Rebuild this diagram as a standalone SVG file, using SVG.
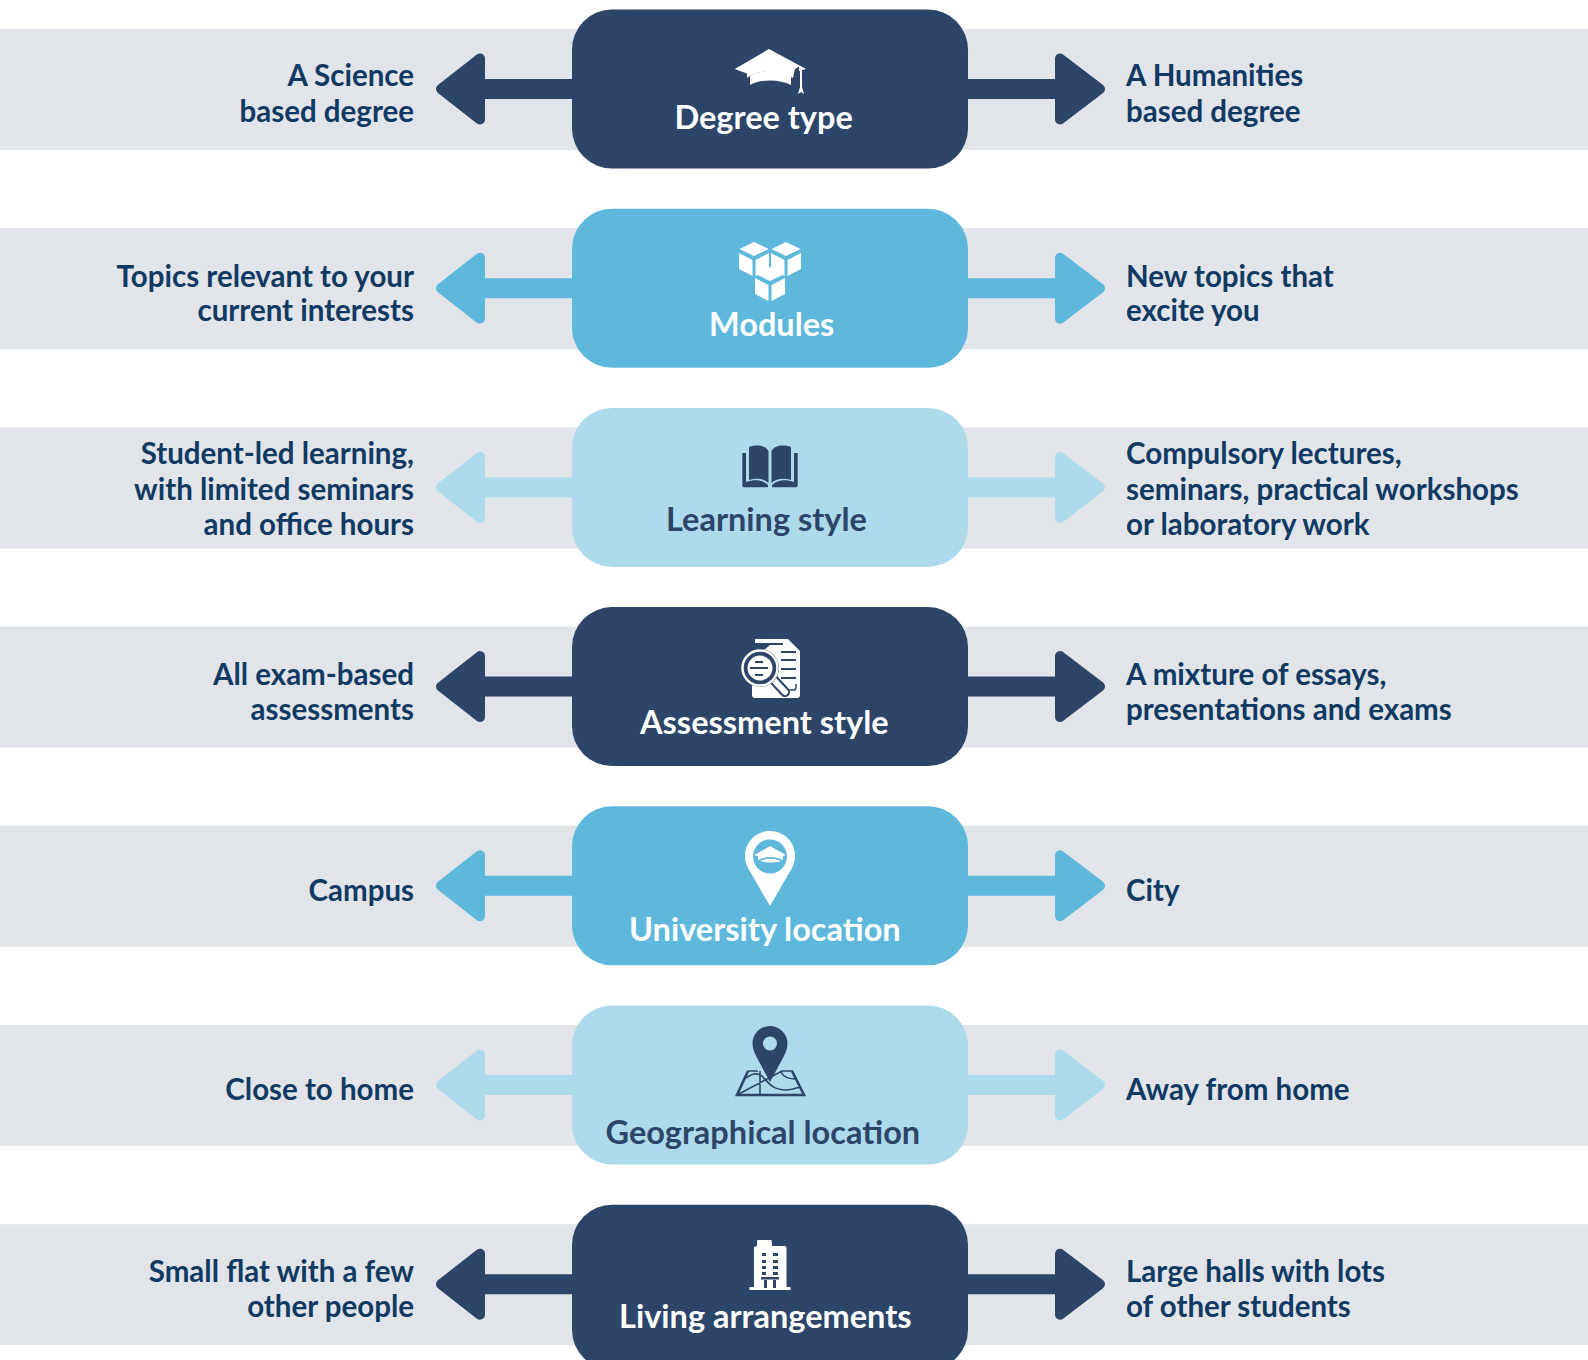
<svg xmlns="http://www.w3.org/2000/svg" xmlns:xlink="http://www.w3.org/1999/xlink" width="1588" height="1360" viewBox="0 0 1588 1360">
<style>
text{font-family:"Lato","Open Sans","Liberation Sans",sans-serif;font-weight:700}
.s{font-size:29.5px;fill:#0f3a63}
.e{text-anchor:end}
.l{font-size:32.5px}
.w{fill:#fff}
.n{fill:#2c4568}
.band{fill:#e1e4e8}
.dark{fill:#2c4568;stroke:#2c4568}
.mid{fill:#5eb8dc;stroke:#5eb8dc}
.light{fill:#aedbec;stroke:#aedbec}
.ln{fill:none;stroke-linecap:round}
</style>
<defs>
<g id="arrows">
<path d="M480 58.5V84H575V94H480V119.500L441 89Z" stroke-width="10" stroke-linejoin="round"/>
<path d="M1060 58.5V84H965V94H1060V119.500L1100 89Z" stroke-width="10" stroke-linejoin="round"/>
</g>
<g id="cube"><path d="M0-12 14.500-5 0 2-14.500-5ZM-15-1-1.500 6V22L-15 15ZM15-1 1.500 6V22L15 15Z"/></g>
</defs>
<rect width="1588" height="1360" fill="#fff"/>
<g id="bands">
<rect class="band" x="0" y="29" width="1588" height="121"/>
<rect class="band" x="0" y="228.200" width="1588" height="121"/>
<rect class="band" x="0" y="427.400" width="1588" height="121"/>
<rect class="band" x="0" y="626.600" width="1588" height="121"/>
<rect class="band" x="0" y="825.800" width="1588" height="121"/>
<rect class="band" x="0" y="1025" width="1588" height="121"/>
<rect class="band" x="0" y="1224.200" width="1588" height="121"/>
</g>
<g id="connectors">
<use xlink:href="#arrows" href="#arrows" class="dark"/>
<use xlink:href="#arrows" href="#arrows" class="mid" y="199.200"/>
<use xlink:href="#arrows" href="#arrows" class="light" y="398.400"/>
<use xlink:href="#arrows" href="#arrows" class="dark" y="597.600"/>
<use xlink:href="#arrows" href="#arrows" class="mid" y="796.800"/>
<use xlink:href="#arrows" href="#arrows" class="light" y="996"/>
<use xlink:href="#arrows" href="#arrows" class="dark" y="1195.200"/>
</g>
<g id="node-degree-type">
<rect x="572" y="9.500" width="396" height="159" rx="40" fill="#2c4568"/>
<g class="w">
<path d="M769 49 806 69 799 71V66.500L795 69 793 78C780 69 758 69 747 78V73.500L734.700 69Z" fill="#fff"/>
<path d="M750 76C760 69 782 69 791 76V85C780 79 760 79 750 85Z" fill="#fff"/>
<path d="M800 68h2V87l2 7-3-2-3 2 2-7Z" fill="#fff"/>
</g>
<text class="l w" x="674.500" y="129">Degree type</text>
</g>
<g id="node-modules">
<rect x="572" y="208.700" width="396" height="159" rx="40" fill="#5eb8dc"/>
<g fill="#fff">
<use xlink:href="#cube" href="#cube" x="754" y="254"/>
<use xlink:href="#cube" href="#cube" x="786" y="254"/>
<use xlink:href="#cube" href="#cube" x="770" y="279"/>
</g>
<text class="l w" x="709" y="335.500">Modules</text>
</g>
<g id="node-learning-style">
<rect x="572" y="407.900" width="396" height="159" rx="40" fill="#aedbec"/>
<path class="n" d="M749 447C758 444 766 446 768.500 451V483C763 478 756 478 749 480ZM791 447C782 444 774 446 771.500 451V483C777 478 784 478 791 480Z"/>
<path class="n" d="M742.300 453H746V482C755 479 763 480 768 485V487.300H744C743 487.300 742.300 486.500 742.300 485ZM797.700 453H794V482C785 479 777 480 772 485V487.300H796C797 487.300 797.700 486.500 797.700 485Z"/>
<text class="l n" x="666" y="530.500">Learning style</text>
</g>
<g id="node-assessment-style">
<rect x="572" y="607.100" width="396" height="159" rx="40" fill="#2c4568"/>
<path fill="#fff" d="M755 639H788L800 651V695C800 697 799 698 797 698H755C753 698 752 697 752 695V660L770 645H755Z"/>
<g fill="none" stroke="#2c4568" stroke-width="2">
<path d="M755 644H783M781 652H796M781 660H796M781 669H796M781 678H796"/>
</g>
<path d="M786 690H794C795.500 690 796 689 796 687V684" fill="none" stroke="#2c4568" stroke-width="1.500"/>
<path d="M772 678 785 692" stroke="#2c4568" stroke-width="10" stroke-linecap="round"/>
<path d="M772 678 785 692" stroke="#fff" stroke-width="6" stroke-linecap="round"/>
<circle cx="760" cy="668" r="19" fill="#2c4568"/>
<circle cx="760" cy="668" r="17.500" fill="#2c4568" stroke="#fff" stroke-width="2.500"/>
<circle cx="760" cy="668" r="12.500" fill="#fff"/>
<path d="M755 662H763M750 668H768M755 675H763" stroke="#2c4568" stroke-width="1.800"/>
<text class="l w" x="640" y="734">Assessment style</text>
</g>
<g id="node-university-location">
<rect x="572" y="806.300" width="396" height="159" rx="40" fill="#5eb8dc"/>
<path fill="#fff" d="M770 831C756 831 745 842 745 856C745 860 746 864 748 868L770 906 792 868C794 864 795 860 795 856 795 842 784 831 770 831Z"/>
<circle cx="770" cy="856.500" r="17" fill="#5eb8dc"/>
<path fill="#fff" d="M770 846 786 855 783 856V860C776 856 764 856 758 860V856.500L754.500 855Z"/>
<path fill="#fff" d="M760 861C766 858 775 858 781 861 775 863 766 863 760 861Z"/>
<text class="l w" x="629" y="941">University location</text>
</g>
<g id="node-geographical-location">
<rect x="572" y="1005.500" width="396" height="159" rx="40" fill="#aedbec"/>
<path class="n" d="M770 1026C760.500 1026 752.500 1034 752.500 1043C752.500 1048 754 1052 756 1056L770 1082 784 1056C786 1052 787.500 1048 787.500 1043 787.500 1034 779.500 1026 770 1026Z"/>
<circle cx="770" cy="1043.500" r="7" fill="#aedbec"/>
<path d="M748 1071H758M782 1071H792L804 1095H737ZM746 1078C752 1074 756 1072 762 1076 768 1082 772 1090 786 1090 792 1090 796 1088 800 1087M760 1071V1094M781 1072C783 1076 788 1079 796 1079" fill="none" stroke="#2c4568" stroke-width="1.600"/>
<path d="M748 1071 737 1095H804L792 1071" fill="none" stroke="#2c4568" stroke-width="2.600"/>
<text class="l n" x="605.500" y="1144">Geographical location</text>
</g>
<g id="node-living-arrangements">
<rect x="572" y="1204.700" width="396" height="165" rx="40" fill="#2c4568"/>
<path fill="#fff" d="M758 1240H771C771.500 1240 772 1241 772 1246H785C786 1246 786.500 1247 786.500 1248V1287H790C791 1287 791 1290 790 1290H750C749 1290 749 1287 750 1287H754V1248C754 1247 755 1246 757 1246V1241C757 1240 757.500 1240 758 1240Z"/>
<path fill="#2c4568" d="M762 1253h4v3h-4zM773 1253h5v3h-5zM762 1260h4v3h-4zM773 1260h5v3h-5zM762 1266h4v3h-4zM773 1266h5v3h-5zM762 1272h4v3h-4zM773 1272h5v3h-5zM761 1277h18v2.500h-18zM764 1280h3v8h-3zM773 1280h3v8h-3z"/>
<text class="l w" x="619" y="1328">Living arrangements</text>
</g>
<g id="options-left" class="e">
<text class="s e" x="414" y="86">A Science</text>
<text class="s e" x="414" y="122">based degree</text>
<text class="s e" x="414" y="286.500">Topics relevant to your</text>
<text class="s e" x="414" y="321">current interests</text>
<text class="s e" x="414" y="464">Student-led learning,</text>
<text class="s e" x="414" y="500">with limited seminars</text>
<text class="s e" x="414" y="535">and office hours</text>
<text class="s e" x="414" y="684.500">All exam-based</text>
<text class="s e" x="414" y="719.500">assessments</text>
<text class="s e" x="414" y="901">Campus</text>
<text class="s e" x="414" y="1100">Close to home</text>
<text class="s e" x="414" y="1282">Small flat with a few</text>
<text class="s e" x="414" y="1317">other people</text>
</g>
<g id="options-right">
<text class="s" x="1126" y="86">A Humanities</text>
<text class="s" x="1126" y="122">based degree</text>
<text class="s" x="1126" y="286.500">New topics that</text>
<text class="s" x="1126" y="321">excite you</text>
<text class="s" x="1126" y="464">Compulsory lectures,</text>
<text class="s" x="1126" y="500">seminars, practical workshops</text>
<text class="s" x="1126" y="535">or laboratory work</text>
<text class="s" x="1126" y="684.500">A mixture of essays,</text>
<text class="s" x="1126" y="719.500">presentations and exams</text>
<text class="s" x="1126" y="901">City</text>
<text class="s" x="1126" y="1100">Away from home</text>
<text class="s" x="1126" y="1282">Large halls with lots</text>
<text class="s" x="1126" y="1317">of other students</text>
</g>
</svg>
